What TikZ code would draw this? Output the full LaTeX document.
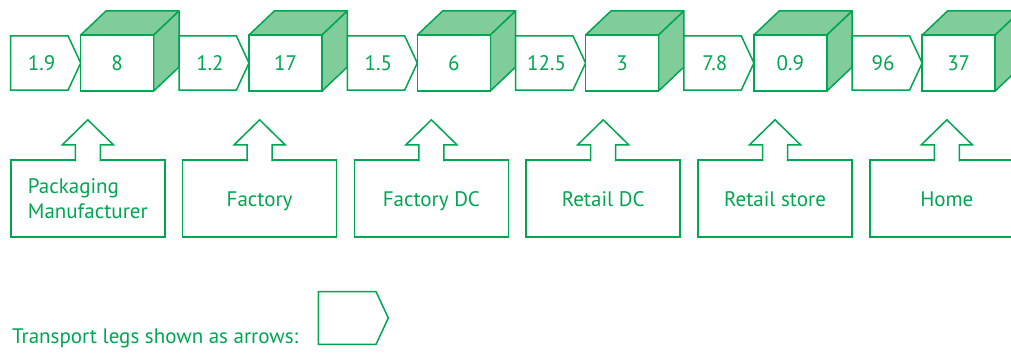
\documentclass[tikz,border=0pt]{standalone}
\usepackage{fontspec}
\setmainfont{PT Sans}
\usetikzlibrary{positioning}
\usetikzlibrary{shapes.symbols}
\definecolor{grn}{RGB}{0,166,81}
\definecolor{grnfill}{RGB}{128,204,155}
\tikzset{
    leg/.style = {signal, signal to=east, signal pointer angle=130, draw=grn, line width=1.5pt, fill=white,
        minimum width=70pt, minimum height=54pt, inner sep=0pt, outer sep=0pt, text=grn,
        execute at begin node=\hspace*{4.5pt}},
    face/.style = {draw=grn, fill=grnfill, line width=1.5pt, line join=round},
    cube/.style = {rectangle, draw=grn, line width=1.5pt, fill=white, minimum width=73pt, minimum height=56pt,
        inner sep=0pt, outer sep=0pt, text=grn,
        append after command={\pgfextra{\let\cn\tikzlastnode
          \filldraw[face] (\cn.north west) -- ++(25.3,-24) -- ++(73,0) -- (\cn.north east) -- cycle;
          \filldraw[face] (\cn.north east) -- ++(25.3,-24) -- ++(0,56) -- (\cn.south east) -- cycle;}}},
    site/.style = {rectangle, draw=grn, line width=1.5pt, fill=white, minimum width=154pt, minimum height=77pt,
        inner sep=0pt, outer sep=0pt, text=grn, align=left},
    oneline/.style = {text height=15.5pt, text depth=0pt},
    uparr/.style = {draw=grn, fill=white, line width=1.5pt},
    every node/.style = {font=\fontsize{21}{25}\selectfont}
}

\begin{document}
\begin{tikzpicture}[x=1pt,y=-1pt]
\useasboundingbox (0,0) rectangle (1011,353);
% transport legs and stock points
\node[leg, anchor=west] at (10.7,63) (l1) {1.9};
\node[cube, right=0pt of l1] (c1) {8};
\node[leg, right=25.3pt of c1] (l2) {1.2};
\node[cube, right=0pt of l2] (c2) {17};
\node[leg, right=25.3pt of c2] (l3) {1.5};
\node[cube, right=0pt of l3] (c3) {6};
\node[leg, right=25.3pt of c3] (l4) {12.5};
\node[cube, right=0pt of l4] (c4) {3};
\node[leg, right=25.3pt of c4] (l5) {7.8};
\node[cube, right=0pt of l5] (c5) {0.9};
\node[leg, right=25.3pt of c5] (l6) {96};
\node[cube, right=0pt of l6] (c6) {37};
%
\node[site] at (87.8,198.3) (pm) {Packaging\\Manufacturer};
\node[site, oneline, right=17.8pt of pm] (fa) {Factory};
\node[site, oneline, right=17.8pt of fa] (fdc) {Factory DC};
\node[site, oneline, right=17.8pt of fdc] (rdc) {Retail DC};
\node[site, oneline, right=17.8pt of rdc] (rs) {Retail store};
\node[site, oneline, right=17.8pt of rs] (ho) {Home};
\foreach \s in {pm,fa,fdc,rdc,rs,ho}
  \draw[uparr] ([xshift=-12.5pt,yshift=-1.6pt]\s.north) -- ++(0,-16.6) -- ++(-13,0) -- ++(25.5,-25)
    -- ++(25.5,25) -- ++(-13,0) -- ++(0,16.6);
% legend
\node[anchor=base west, text=grn, inner sep=0pt] at (12,343) (key) {Transport legs shown as arrows:};
\node[leg, minimum height=52.6pt, anchor=west] at (318.3,318) (keyarr) {};
\end{tikzpicture}
\end{document}
